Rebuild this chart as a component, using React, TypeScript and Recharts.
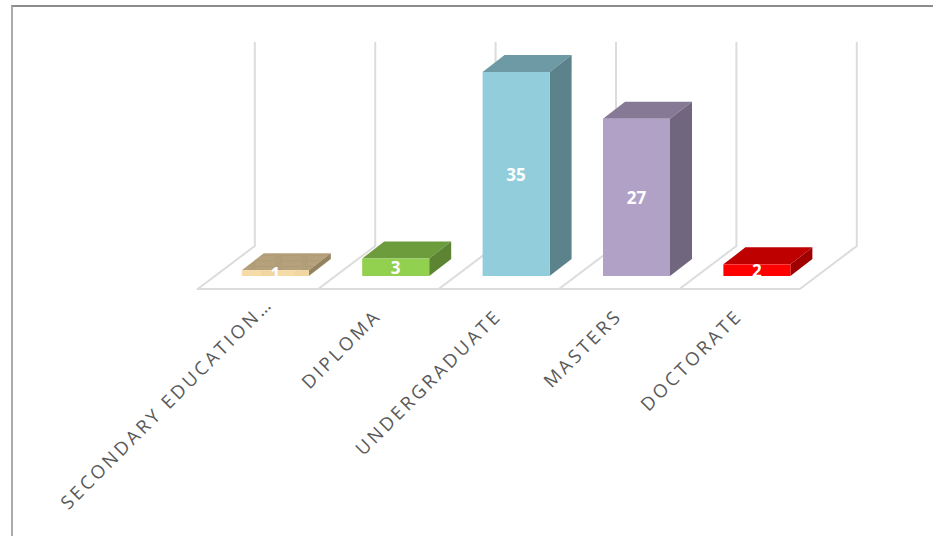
import { BarChart, Bar, XAxis, YAxis, LabelList } from "recharts";

const categories = ["SECONDARY EDUCATION…", "DIPLOMA", "UNDERGRADUATE", "MASTERS", "DOCTORATE"];
const counts = [1, 3, 35, 27, 2];
const faceColors = ["#f4dba8", "#92d050", "#92cddc", "#b2a1c7", "#ff0000"];
const topColors = ["#b5a27c", "#6d9c3c", "#6d9aa5", "#857995", "#bf0000"];
const sideColors = ["#94835f", "#5c8432", "#5c828b", "#70667e", "#a10000"];

const data = categories.map((name, i) => ({ name, value: counts[i] }));

const W = 933;
const H = 536;
const LEFT = 214.8;
const RIGHT = 816.8;
const TOP = 72;
const BOTTOM = 276;
const BAND = (RIGHT - LEFT) / categories.length;
// 3d offsets
const DX = 22;
const DY = 17;
const FLOOR_DX = 17;
const FLOOR_DY = 13;
const WALL_DX = 57;
const WALL_DY = 43;
const GRID = "#dcdcdc";

function Box3D(props: any) {
  const { x, y, width, height, index } = props;
  const wood = index === 0;
  return (
    <g>
      <polygon
        points={`${x},${y} ${x + DX},${y - DY} ${x + width + DX},${y - DY} ${x + width},${y}`}
        fill={wood ? "url(#woodTop)" : topColors[index]}
      />
      <polygon
        points={`${x + width},${y} ${x + width + DX},${y - DY} ${x + width + DX},${y + height - DY} ${x + width},${y + height}`}
        fill={sideColors[index]}
      />
      <rect x={x} y={y} width={width} height={height} fill={wood ? "url(#woodFace)" : faceColors[index]} />
    </g>
  );
}

function AngledTick(props: any) {
  const { x, y, payload, index } = props;
  // the truncated first label sits a bit further up the slope
  const tx = x - 13 + (index === 0 ? 12 : 0);
  const ty = y + 33 - (index === 0 ? 12 : 0);
  return (
    <text
      x={tx}
      y={ty}
      transform={`rotate(-45 ${tx} ${ty})`}
      textAnchor="end"
      fontFamily="'Open Sans'"
      fontSize={18.5}
      letterSpacing={3}
      fill="#595959"
    >
      {payload.value}
    </text>
  );
}

function Frame() {
  const x0 = LEFT - FLOOR_DX;
  const y0 = BOTTOM + FLOOR_DY;
  const ticks = categories.map((_, i) => i).concat(categories.length);
  return (
    <g stroke={GRID} strokeWidth={2} fill="none">
      <line x1={x0 - 1} y1={y0} x2={x0 + BAND * categories.length + 1} y2={y0} />
      {ticks.map((i) => {
        const fx = x0 + i * BAND;
        return (
          <polyline
            key={i}
            points={`${fx},${y0} ${fx + WALL_DX},${y0 - WALL_DY} ${fx + WALL_DX},42`}
          />
        );
      })}
    </g>
  );
}

export default function App() {
  return (
    <div style={{ position: "absolute", left: 0, top: 0, width: W, height: H, background: "#fff", overflow: "hidden" }}>
      <div
        style={{
          position: "absolute",
          left: 11,
          top: 5,
          width: W,
          height: H,
          borderTop: "2px solid #8c8c8c",
          borderLeft: "2px solid #ababab",
        }}
      />
      <div style={{ position: "absolute", left: 0, top: 0 }}>
        <BarChart
          width={W}
          height={H}
          data={data}
          margin={{ top: TOP, right: W - RIGHT, bottom: 0, left: LEFT }}
          barCategoryGap={0}
        >
          <defs>
            <pattern id="woodFace" width="34" height="6" patternUnits="userSpaceOnUse" x="241">
              <rect width="34" height="6" fill="#f4dba8" />
              <rect x="20" width="14" height="6" fill="#f1d6a0" />
            </pattern>
            <pattern id="woodTop" width="26" height="5.6" patternUnits="userSpaceOnUse">
              <rect width="26" height="5.6" fill="#b5a27c" />
              <rect x="0" y="2.8" width="26" height="0.8" fill="#ad9a74" />
              <rect x="15" width="7" height="5.6" fill="#b19e78" />
            </pattern>
          </defs>
          <Frame />
          <XAxis
            dataKey="name"
            height={H - BOTTOM}
            axisLine={false}
            tickLine={false}
            interval={0}
            tick={<AngledTick />}
          />
          <YAxis hide domain={[0, 35]} />
          <Bar dataKey="value" barSize={67} shape={<Box3D />} isAnimationActive={false}>
            <LabelList
              dataKey="value"
              position="center"
              fill="#ffffff"
              fontFamily="'Open Sans'"
              fontWeight={700}
              fontSize={17}
              dy={1}
            />
          </Bar>
        </BarChart>
      </div>
    </div>
  );
}
